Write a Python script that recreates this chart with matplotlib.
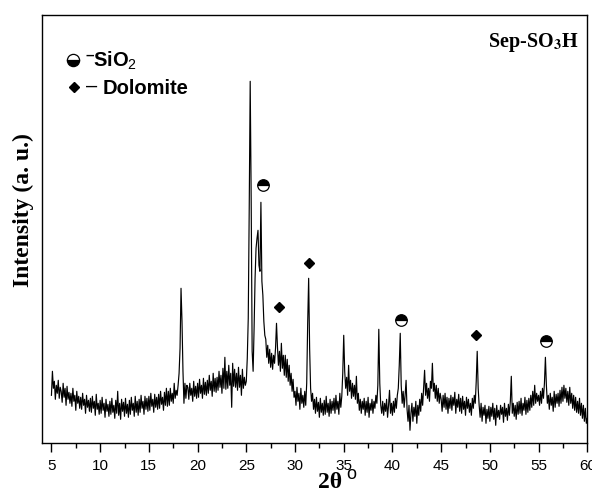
import numpy as np
import matplotlib
matplotlib.use('Agg')
import matplotlib.pyplot as plt
from matplotlib.ticker import MultipleLocator

plt.rcParams['mathtext.fontset'] = 'custom'
plt.rcParams['mathtext.rm'] = 'Liberation Sans'
plt.rcParams['mathtext.bf'] = 'Liberation Sans:bold'

# XRD scan, 2theta from 5 to 60 deg in 0.1 deg steps (intensity in a.u.)
two_theta = np.round(np.arange(50, 601) / 10, 1)
intensity = np.array([
    48, 72, 55, 62, 44, 58, 50, 63, 45, 56,        # 5
    52, 41, 60, 46, 55, 38, 57, 44, 51, 40,        # 6
    50, 37, 55, 42, 48, 33, 52, 40, 47, 35,        # 7
    46, 34, 50, 38, 44, 30, 48, 36, 43, 32,        # 8
    45, 31, 47, 35, 42, 28, 49, 34, 40, 29,        # 9
    43, 30, 46, 33, 40, 26, 44, 32, 39, 27,        # 10
    42, 29, 45, 31, 38, 25, 43, 30, 52, 28,        # 11
    40, 24, 44, 32, 41, 27, 45, 30, 39, 26,        # 12
    43, 29, 46, 33, 40, 27, 47, 31, 42, 28,        # 13
    44, 31, 48, 35, 42, 29, 47, 34, 45, 32,        # 14
    47, 33, 50, 37, 44, 31, 49, 36, 46, 34,        # 15
    49, 35, 52, 39, 46, 33, 51, 38, 55, 37,        # 16
    52, 38, 55, 42, 50, 40, 60, 45, 53, 48,        # 17
    58, 70, 95, 155, 122, 72, 40, 60, 45, 58,      # 18
    56, 44, 60, 48, 55, 42, 62, 47, 57, 45,        # 19
    60, 46, 64, 50, 58, 45, 65, 49, 61, 48,        # 20
    63, 50, 68, 53, 62, 47, 70, 52, 65, 51,        # 21
    66, 53, 72, 56, 68, 50, 75, 55, 86, 54,        # 22
    72, 55, 78, 58, 70, 36, 80, 57, 74, 56,        # 23
    70, 53, 76, 56, 68, 48, 74, 55, 66, 58,        # 24
    62, 85, 125, 235, 362, 245, 92, 72, 115, 165,  # 25
    195, 205, 213, 178, 172, 241, 162, 148, 122, 108,  # 26
    104, 86, 98, 80, 94, 76, 90, 74, 88, 80,       # 27
    95, 120, 96, 78, 92, 72, 100, 75, 88, 68,      # 28
    88, 66, 84, 62, 78, 58, 70, 52, 64, 46,        # 29
    52, 38, 56, 42, 50, 34, 55, 40, 48, 36,        # 30
    52, 38, 60, 120, 165, 95, 55, 42, 50, 34,      # 31
    44, 30, 46, 32, 41, 26, 45, 31, 40, 28,        # 32
    43, 29, 47, 31, 40, 27, 44, 30, 42, 33,        # 33
    45, 30, 48, 34, 42, 29, 50, 36, 47, 70,        # 34
    108, 72, 55, 66, 48, 78, 52, 63, 45, 60,       # 35
    47, 58, 44, 67, 40, 50, 33, 44, 30, 42,        # 36
    34, 45, 28, 42, 31, 46, 26, 40, 33, 44,        # 37
    30, 42, 35, 48, 40, 58, 114, 60, 38, 30,       # 38
    42, 28, 40, 32, 44, 26, 38, 53, 30, 40,        # 39
    28, 42, 31, 45, 35, 48, 55, 78, 110, 58,       # 40
    40, 52, 36, 48, 63, 34, 22, 38, 13, 30,        # 41
    40, 22, 36, 27, 42, 20, 38, 28, 44, 32,        # 42
    50, 38, 56, 73, 48, 60, 45, 55, 42, 62,        # 43
    55, 80, 52, 60, 45, 58, 42, 55, 40, 50,        # 44
    44, 32, 48, 36, 50, 34, 46, 30, 45, 35,        # 45
    48, 33, 46, 38, 51, 30, 44, 36, 49, 32,        # 46
    45, 30, 47, 34, 42, 28, 46, 35, 44, 31,        # 47
    40, 28, 45, 35, 48, 40, 62, 92, 55, 38,        # 48
    26, 40, 22, 36, 28, 38, 20, 34, 25, 37,        # 49
    22, 36, 27, 40, 24, 35, 18, 38, 26, 33,        # 50
    24, 38, 29, 36, 21, 40, 27, 35, 23, 39,        # 51
    28, 42, 67, 30, 40, 27, 38, 24, 41, 29,        # 52
    42, 30, 45, 28, 40, 33, 46, 29, 43, 31,        # 53
    45, 33, 48, 36, 52, 38, 58, 40, 50, 42,        # 54
    48, 38, 52, 40, 55, 45, 60, 86, 58, 40,        # 55
    48, 34, 50, 38, 46, 32, 52, 36, 49, 40,        # 56
    50, 37, 53, 40, 56, 42, 58, 45, 55, 41,        # 57
    52, 38, 56, 40, 50, 35, 48, 33, 46, 31,        # 58
    42, 30, 45, 28, 40, 25, 38, 22, 35, 20,        # 59
    25,                                            # 60
])

# peak assignments
sio2_x = [26.68, 40.84, 55.8]
sio2_y = [258, 123, 102]
dolomite_x = [28.4, 31.4, 48.57]
dolomite_y = [136, 180, 108]
tick_vals = list(range(5, 61, 5))

W, H = 592, 490
fig = plt.figure(figsize=(W / 100, H / 100), dpi=100)
ax = fig.add_axes([41.7 / W, 46.7 / H, 545.6 / W, 428.6 / H])

ax.plot(two_theta, intensity, color='k', lw=0.85)
ax.plot(sio2_x, sio2_y, ls='none', marker='o', ms=8.3, fillstyle='top',
        markerfacecolor='k', markerfacecoloralt='white', markeredgecolor='k', mew=0.9)
ax.plot(dolomite_x, dolomite_y, ls='none', marker='D', ms=5.6, color='k')

ax.set_xlim(4, 60)
ax.set_ylim(0, 428.6)
ax.set_yticks([])
ax.set_xticks(tick_vals)
ax.set_xticklabels([str(t) for t in tick_vals], fontfamily='Liberation Sans', fontsize=11)
ax.xaxis.set_minor_locator(MultipleLocator(2.5))
ax.tick_params(axis='x', which='major', direction='out', length=6.5, width=1.0, pad=4.5, top=False)
ax.tick_params(axis='x', which='minor', direction='out', length=3.3, width=1.0, top=False)
for sp in ax.spines.values():
    sp.set_linewidth(1.0)


def fx(x):
    return x / W


def fy(y):
    return 1 - y / H


# axis titles
fig.text(fx(23), fy(210), 'Intensity (a. u.)', rotation=90, ha='center', va='center',
         fontfamily='Liberation Serif', fontweight='bold', fontsize=17)
fig.text(fx(318), fy(488), '2θ', ha='left', va='baseline',
         fontfamily='Liberation Serif', fontweight='bold', fontsize=17)
fig.text(fx(346), fy(479), 'o', ha='left', va='baseline',
         fontfamily='Liberation Sans', fontsize=13)

# sample name
fig.text(fx(578), fy(47), r'Sep-SO$_\mathbf{3}$H', ha='right', va='baseline',
         fontfamily='Liberation Serif', fontweight='bold', fontsize=14.5,
         math_fontfamily='stix')

# legend
fig.add_artist(plt.Line2D([fx(73)], [fy(60)], ls='none', marker='o', ms=8.8,
                          fillstyle='bottom', markerfacecolor='k', markerfacecoloralt='white',
                          markeredgecolor='k', mew=0.9))
fig.text(fx(85), fy(60), '–', ha='left', va='baseline',
         fontfamily='Liberation Sans', fontweight='bold', fontsize=11)
fig.text(fx(93), fy(67), r'SiO$_\mathrm{2}$', ha='left', va='baseline',
         fontfamily='Liberation Sans', fontweight='bold', fontsize=14.5)
fig.add_artist(plt.Line2D([fx(74)], [fy(87)], ls='none', marker='D', ms=5.6, color='k'))
fig.text(fx(86), fy(92), '–', ha='left', va='baseline',
         fontfamily='Liberation Sans', fontsize=14.5)
fig.text(fx(103), fy(94), 'Dolomite', ha='left', va='baseline',
         fontfamily='Liberation Sans', fontweight='bold', fontsize=14.5)

fig.savefig('out.png', dpi=100)
